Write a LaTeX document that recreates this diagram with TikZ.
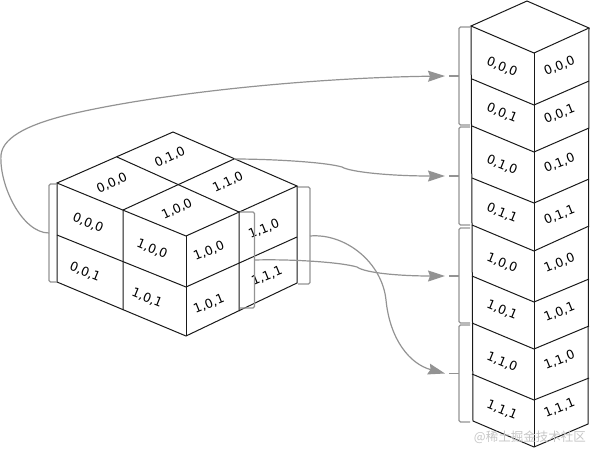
\documentclass[tikz,border=0pt]{standalone}
\usepackage{fontspec}
\setmainfont{DejaVu Sans}
\newfontfamily\cjkmark{Noto Sans CJK SC}
\usetikzlibrary{arrows.meta}

\tikzset{
	edge/.style={line width=1pt, black!90},
	brace/.style={line width=1.3pt, gray!85, rounded corners=1.5pt},
	flow/.style={line width=1.2pt, gray!85, -{Stealth[inset=2pt,length=17pt,width=11pt]}},
	bare/.style={line width=1.3pt, gray!85},
	lefttag/.style={font=\fontsize{12.5}{13}\selectfont, rotate=-22, inner sep=0pt},
	righttag/.style={font=\fontsize{12.5}{13}\selectfont, rotate=22, inner sep=0pt},
	toptag/.style={font=\fontsize{12.5}{13}\selectfont, rotate=25, inner sep=0pt},
}

\begin{document}
\begin{tikzpicture}[x=1pt, y=-1pt]
	\useasboundingbox (0,0) rectangle (590,448);

	% Block on the left
	\draw[edge] (57,183) -- (173,132) -- (297,186) -- (186,236) -- cycle;
	\draw[edge] (57,183) -- (57,282) -- (186,336) -- (297,283) -- (297,186);
	\draw[edge] (186,236) -- (186,336);
	\draw[edge] (57,235) -- (186,287) -- (297,237);
	\draw[edge] (117,157) -- (239,212) -- (239,311);
	\draw[edge] (234,159) -- (123,210) -- (123,310);

	% Stack on the right
	\draw[edge] (471,26) -- (527,1) -- (589,28) -- (534,53) -- cycle;
	\draw[edge] (471,26) -- (473,421) -- (534,447) -- (588,424) -- (589,28);
	\draw[edge] (534,53) -- (534,447);
	\foreach \lf/\fr/\rt in {79/105/81, 126/152/128, 178/203/179, 225/251/226, 276/302/279, 323/349/326, 374/400/378}
		\draw[edge] (472,\lf) -- (534,\fr) -- (589,\rt);

	% Labels on the block
	\node[toptag] (t010) at (170,157) {0,1,0};
	\node[toptag] (t000) at (112,183) {0,0,0};
	\node[toptag] (t110) at (228,182) {1,1,0};
	\node[toptag] (t100) at (177,209) {1,0,0};
	\node[lefttag] (l000) at (88,223) {0,0,0};
	\node[lefttag] (l100) at (152,249) {1,0,0};
	\node[lefttag] (l001) at (85,272) {0,0,1};
	\node[lefttag] (l101) at (147,298) {1,0,1};
	\node[righttag] (r100) at (209,251) {1,0,0};
	\node[righttag] (r101) at (209,304) {1,0,1};
	\node[righttag] (r110) at (264,229) {1,1,0};
	\node[righttag] (r111) at (267,276) {1,1,1};

	% Labels on the stack
	\foreach \txt/\ya/\yb in {{0,0,0}/67/66, {0,0,1}/113/114, {0,1,0}/165/163, {0,1,1}/213/215, {1,0,0}/263/263, {1,0,1}/310/312, {1,1,0}/362/360, {1,1,1}/410/408} {
		\node[lefttag] at (502,\ya) {\txt};
		\node[righttag] at (559.5,\yb) {\txt};
	}

	% Brackets round the block
	\draw[brace] (57,184) -- (49,184) -- (49,282) -- (57,282);
	\draw[brace] (240,212) -- (254.5,212) -- (254.5,308) -- (240,308);
	\draw[brace] (298,187) -- (310,187) -- (310,284) -- (298,284);
	\coordinate (outA) at (49,233);
	\coordinate (outB) at (234,159);
	\coordinate (outC) at (254.5,260);
	\coordinate (outD) at (310,236);

	% Brackets beside the stack
	\draw[brace] (470,27) -- (459,27) -- (459,125) -- (470,125);
	\draw[brace] (470,127) -- (459,127) -- (459,225) -- (470,225);
	\draw[brace] (470,228) -- (459,228) -- (459,323) -- (470,323);
	\draw[brace] (470,325) -- (459,325) -- (459,422) -- (470,422);
	\coordinate (inA) at (449,76);
	\coordinate (inB) at (449,176);
	\coordinate (inC) at (449,276);
	\coordinate (inD) at (449,373.5);
	\coordinate (tipA) at (445,76);
	\coordinate (tipB) at (445,176);
	\coordinate (tipC) at (445,276);
	\coordinate (tipD) at (445,373.5);
	\draw[bare] (inA) -- (459,76);
	\draw[bare] (inB) -- (459,176);
	\draw[bare] (inC) -- (459,276);
	\draw[bare] (inD) -- (459,373.5);

	% Curves from block to stack
	\draw[flow] (outA) .. controls (22,233) and (-1,185) .. (1,155)
		.. controls (3,135) and (35,123) .. (67,115)
		.. controls (150,95) and (300,78) .. (tipA);
	\draw[flow] (outB) .. controls (270,159) and (325,162) .. (342,167)
		.. controls (350,172) and (390,176) .. (tipB);
	\draw[flow] (outC) .. controls (290,259) and (340,262) .. (357,267)
		.. controls (365,273) and (400,276) .. (tipC);
	\draw[flow] (outD) .. controls (345,233) and (382,262) .. (386,300)
		.. controls (390,340) and (410,364) .. (tipD);

	\node[text=gray!45, font=\cjkmark\fontsize{12.5}{13}\selectfont, anchor=east, inner sep=0pt] (mark) at (586,437) {@稀土掘金技术社区};
\end{tikzpicture}
\end{document}
